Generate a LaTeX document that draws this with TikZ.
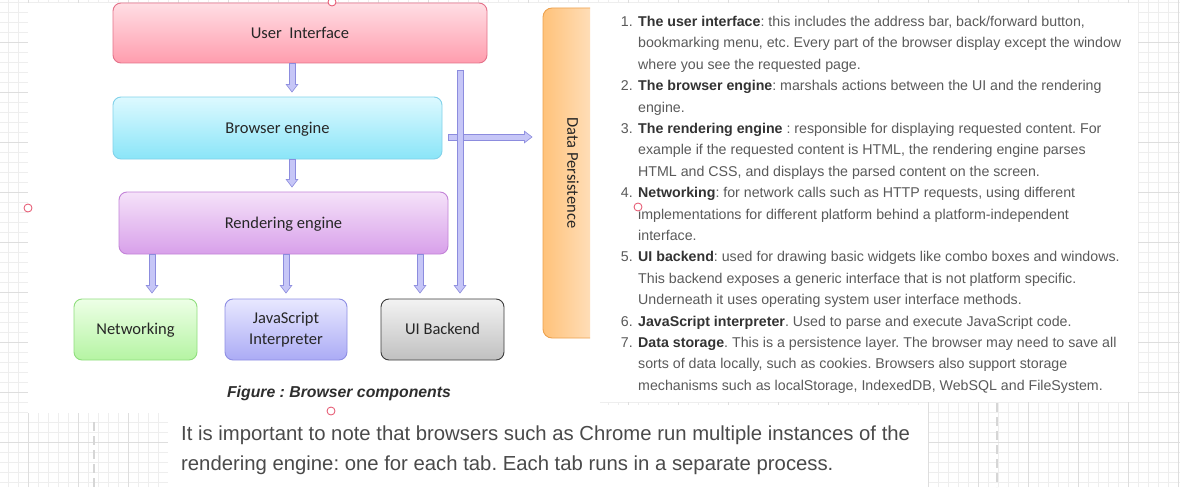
\documentclass[tikz,border=0pt]{standalone}
\usepackage{fontspec}
\setmainfont{Liberation Sans}
\newfontfamily\carl{Carlito}
\usetikzlibrary{arrows.meta}
\definecolor{gridminor}{HTML}{EEEEEE}
\definecolor{gridmajor}{HTML}{DEDEDE}
\definecolor{dashc}{HTML}{D6D6D6}
\definecolor{uiT}{HTML}{FFDEE4}\definecolor{uiB}{HTML}{FF9DAE}\definecolor{uiD}{HTML}{E4728A}
\definecolor{beT}{HTML}{DDF9FF}\definecolor{beB}{HTML}{8AE5F8}\definecolor{beD}{HTML}{82D2EA}
\definecolor{reT}{HTML}{F5E2F9}\definecolor{reB}{HTML}{D8A0EA}\definecolor{reD}{HTML}{C383D8}
\definecolor{ntT}{HTML}{EDFFE6}\definecolor{ntB}{HTML}{B5F4A3}\definecolor{ntD}{HTML}{90DE7E}
\definecolor{jsT}{HTML}{E8E8FF}\definecolor{jsB}{HTML}{ABABF5}\definecolor{jsD}{HTML}{8E8EE4}
\definecolor{ubT}{HTML}{F3F3F3}\definecolor{ubB}{HTML}{C0C0C0}\definecolor{ubD}{HTML}{3C3C3C}
\definecolor{dpL}{HTML}{FFC27A}\definecolor{dpR}{HTML}{FFE5C8}\definecolor{dpD}{HTML}{EDA24F}
\definecolor{arrb}{HTML}{8C8CDE}\definecolor{arrf}{HTML}{C6C6F7}
\definecolor{boxtxt}{HTML}{262626}
\definecolor{bodyc}{HTML}{5A5A5A}
\definecolor{boldc}{HTML}{333333}
\definecolor{parac}{HTML}{4A4A4A}
\definecolor{capc}{HTML}{2E2E2E}
\definecolor{handle}{HTML}{E5506B}
\newcommand\bt[1]{{\bfseries\color{boldc}#1}}
\frenchspacing
\begin{document}
\frenchspacing
\begin{tikzpicture}[x=1pt,y=-1pt,
  comp/.style={draw=#1D, line width=0.9pt, rounded corners=8pt, top color=#1T, bottom color=#1B,
     inner sep=0pt, align=center, text=boxtxt, font=\carl\fontsize{16.5}{19.5}\selectfont},
  oneline/.style={text height=14pt, text depth=3.5pt},
  arrout/.style={line width=7pt, draw=arrb, -{Triangle[width=13pt,length=8.5pt,line width=0pt]}},
  arrin/.style={line width=5pt, draw=arrf, shorten <=0.9pt, -{Triangle[width=10pt,length=6.5pt,line width=0pt]}},
  txt/.style={anchor=base west, inner sep=0pt, text=bodyc, font=\fontsize{14.2}{17}\selectfont},
  num/.style={anchor=base east, inner sep=0pt, text=bodyc, font=\fontsize{14.2}{17}\selectfont},
  para/.style={anchor=base west, inner sep=0pt, text=parac, font=\fontsize{20.3}{23}\selectfont},
  handlemark/.style={draw=handle, fill=white, line width=0.8pt}]
\useasboundingbox (0,0) rectangle (1180,487);
% background grid
\fill[white] (0,0) rectangle (1180,487);
\foreach \x in {8.5,18.5,...,1180} \draw[gridminor, line width=0.6pt] (\x,0) -- (\x,487);
\foreach \y in {2,12,...,487} \draw[gridminor, line width=0.6pt] (0,\y) -- (1180,\y);
\foreach \x in {28,78,...,1180} \draw[gridmajor, line width=0.8pt] (\x,0) -- (\x,487);
\foreach \y in {42,92,...,487} \draw[gridmajor, line width=0.8pt] (0,\y) -- (1180,\y);
% white panels
\fill[white] (28,3) rectangle (600,413);
\fill[white] (590,3) rectangle (1138,399);
\fill[white] (600,399) rectangle (1138,402);
\fill[white] (168,405) rectangle (928,487);
\draw[dashc, line width=2pt, dash pattern=on 9pt off 5pt] (94,422) -- (94,487);
\draw[dashc, line width=2pt, dash pattern=on 9pt off 5pt] (997,403) -- (997,487);

% components
\node[comp=ui, oneline, minimum width=374pt, minimum height=60pt] (ui) at (300,33) {User~\ Interface};
\node[comp=be, oneline, minimum width=329pt, minimum height=62pt] (be) at (277.5,128) {Browser engine};
\node[comp=re, oneline, minimum width=329pt, minimum height=62pt] (re) at (283.5,223) {Rendering engine};
\node[comp=nt, oneline, minimum width=123pt, minimum height=61pt] (net) at (135.5,329.5) {Networking};
\node[comp=js, minimum width=122pt, minimum height=61pt] (js) at (286,329.5) {JavaScript\\[1pt]Interpreter};
\node[comp=ub, oneline, minimum width=123pt, minimum height=61pt] (uib) at (442.5,329.5) {UI Backend};
\begin{scope}
\clip (0,0) rectangle (590,487);
\node[draw=dpD, line width=0.9pt, rounded corners=9pt, left color=dpL, right color=dpR,
      minimum width=60pt, minimum height=330pt, inner sep=0pt] (dp) at (573,173) {};
\end{scope}
\node[rotate=-90, text=boxtxt, font=\carl\fontsize{16.5}{19.5}\selectfont, inner sep=0pt] (dplabel) at (dp.center) {Data Persistence};

% connectors
\coordinate (c1) at (292,0);
\coordinate (c3) at (152,0);
\coordinate (c4) at (286,0);
\coordinate (c5) at (420,0);
\coordinate (c6) at (460,70);
\coordinate (c7) at (0,137);
\draw[arrout, shorten >=4pt] (ui.south -| c1) -- (be.north -| c1);
\draw[arrin, shorten >=5.3pt] (ui.south -| c1) -- (be.north -| c1);
\draw[arrout, shorten >=4pt] (be.south -| c1) -- (re.north -| c1);
\draw[arrin, shorten >=5.3pt] (be.south -| c1) -- (re.north -| c1);
\draw[arrout, shorten >=5pt] (re.south -| c3) -- (net.north -| c3);
\draw[arrin, shorten >=6.3pt] (re.south -| c3) -- (net.north -| c3);
\draw[arrout, shorten >=5pt] (re.south -| c4) -- (js.north -| c4);
\draw[arrin, shorten >=6.3pt] (re.south -| c4) -- (js.north -| c4);
\draw[arrout, shorten >=5pt] (re.south -| c5) -- (uib.north -| c5);
\draw[arrin, shorten >=6.3pt] (re.south -| c5) -- (uib.north -| c5);
\draw[arrout, shorten <=6pt, shorten >=10pt] (be.east |- c7) -- (dp.west |- c7);
\draw[arrin, shorten <=6.9pt, shorten >=11.3pt] (be.east |- c7) -- (dp.west |- c7);
\draw[arrout, shorten >=5pt] (c6) -- (uib.north -| c6);
\draw[arrin, shorten >=6.3pt] (c6) -- (uib.north -| c6);

% caption
\node[text=capc, font=\bfseries\itshape\fontsize{15.8}{18}\selectfont, inner sep=0pt] (cap) at (339,393) {Figure : Browser components};

% numbered list
\node[num] (n1) at (633,26.5) {1.};
\node[txt] (t1) at (638,26.5) {\bt{The user interface}: this includes the address bar, back/forward button,};
\node[txt] (t2) at (638,47.9) {bookmarking menu, etc. Every part of the browser display except the window};
\node[txt] (t3) at (638,69.3) {where you see the requested page.};
\node[num] (n2) at (633,90.7) {2.};
\node[txt] (t4) at (638,90.7) {\bt{The browser engine}: marshals actions between the UI and the rendering};
\node[txt] (t5) at (638,112.1) {engine.};
\node[num] (n3) at (633,133.5) {3.};
\node[txt] (t6) at (638,133.5) {\bt{The rendering engine} : responsible for displaying requested content. For};
\node[txt] (t7) at (638,154.9) {example if the requested content is HTML, the rendering engine parses};
\node[txt] (t8) at (638,176.3) {HTML and CSS, and displays the parsed content on the screen.};
\node[num] (n4) at (633,197.7) {4.};
\node[txt] (t9) at (638,197.7) {\bt{Networking}: for network calls such as HTTP requests, using different};
\node[txt] (t10) at (638,219.1) {implementations for different platform behind a platform-independent};
\node[txt] (t11) at (638,240.5) {interface.};
\node[num] (n5) at (633,261.9) {5.};
\node[txt] (t12) at (638,261.9) {\bt{UI backend}: used for drawing basic widgets like combo boxes and windows.};
\node[txt] (t13) at (638,283.3) {This backend exposes a generic interface that is not platform specific.};
\node[txt] (t14) at (638,304.7) {Underneath it uses operating system user interface methods.};
\node[num] (n6) at (633,326.1) {6.};
\node[txt] (t15) at (638,326.1) {\bt{JavaScript interpreter}. Used to parse and execute JavaScript code.};
\node[num] (n7) at (633,347.5) {7.};
\node[txt] (t16) at (638,347.5) {\bt{Data storage}. This is a persistence layer. The browser may need to save all};
\node[txt] (t17) at (638,368.9) {sorts of data locally, such as cookies. Browsers also support storage};
\node[txt] (t18) at (638,390.3) {mechanisms such as localStorage, IndexedDB, WebSQL and FileSystem.};

% paragraph
\node[para] (p1) at (181,440) {It is important to note that browsers such as Chrome run multiple instances of the};
\node[para] (p2) at (181,470) {rendering engine: one for each tab. Each tab runs in a separate process.};

% selection handles
\draw[handlemark] (332,2) circle (4pt);
\draw[handlemark] (28,208) circle (4pt);
\draw[handlemark] (638,207) circle (4pt);
\draw[handlemark] (331,411) circle (4pt);
\end{tikzpicture}
\end{document}
